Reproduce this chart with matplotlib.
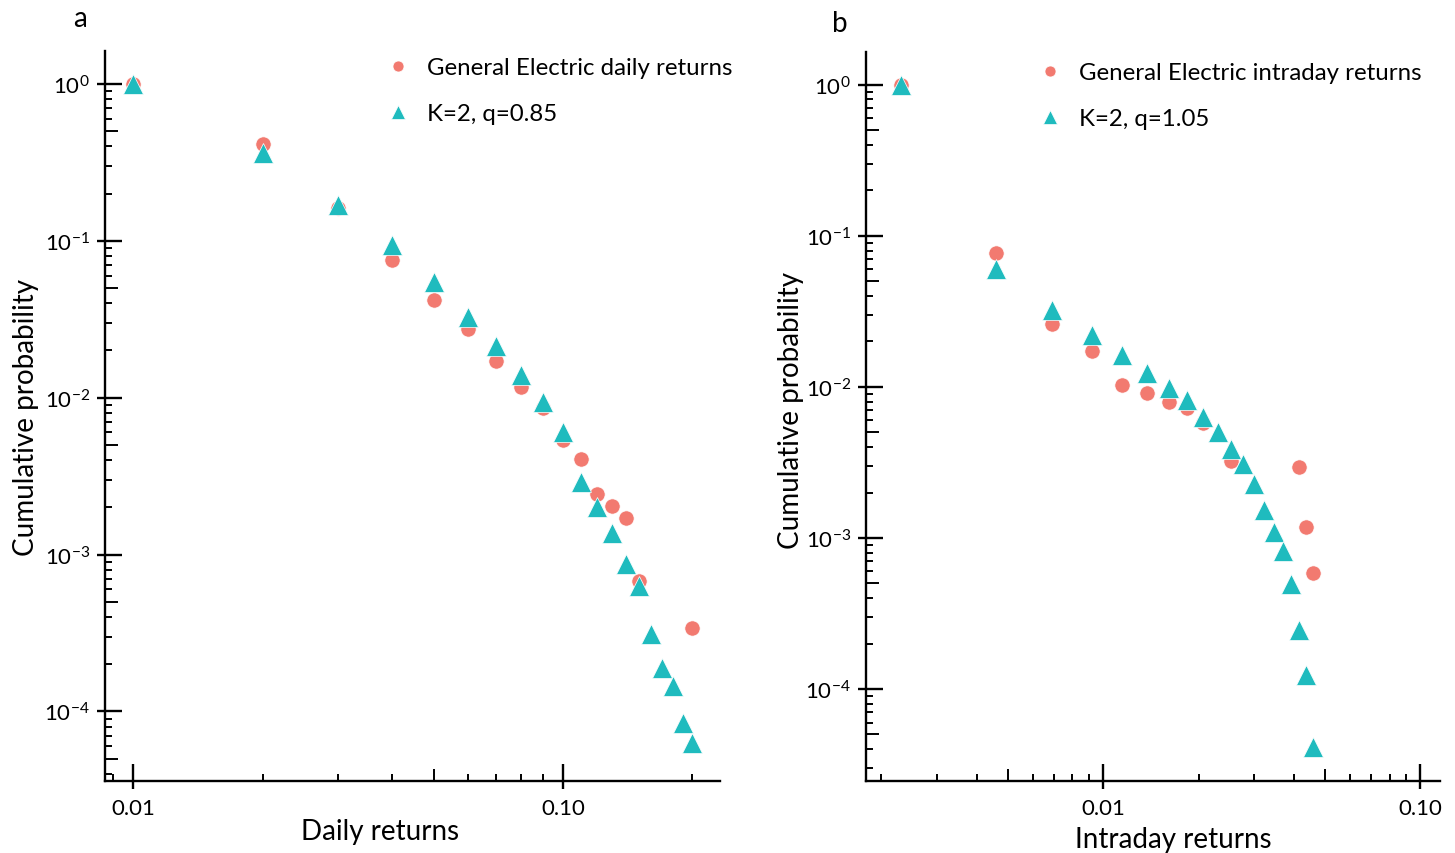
import matplotlib
matplotlib.use('Agg')
import matplotlib.pyplot as plt
from matplotlib.ticker import LogLocator, FixedLocator, NullFormatter

plt.rcParams['font.family'] = ['Lato', 'DejaVu Sans']
plt.rcParams['mathtext.default'] = 'regular'

# panel a: daily returns
daily_ge_x = [0.01, 0.02, 0.03, 0.04, 0.05, 0.06, 0.07, 0.08, 0.09, 0.10,
              0.11, 0.12, 0.13, 0.14, 0.15, 0.20]
daily_ge_y = [1.0, 0.416, 0.161, 0.0752, 0.0419, 0.0274, 0.0172, 0.0117, 0.00865, 0.0054,
              0.00404, 0.00242, 0.00203, 0.0017, 0.00068, 0.00034]
daily_fit_x = [0.01, 0.02, 0.03, 0.04, 0.05, 0.06, 0.07, 0.08, 0.09, 0.10,
               0.11, 0.12, 0.13, 0.14, 0.15, 0.16, 0.17, 0.18, 0.19, 0.20]
daily_fit_y = [1.0, 0.36, 0.168, 0.0936, 0.0545, 0.0327, 0.0214, 0.014, 0.00944, 0.00608,
               0.00289, 0.002, 0.00137, 0.00087, 0.00063, 0.000313, 0.000188, 0.000146, 8.4e-5, 6.3e-5]

# panel b: intraday returns
intra_ge_x = [0.0023, 0.0046, 0.0069, 0.0092, 0.0115, 0.0138, 0.0161, 0.0184, 0.0207,
              0.0253, 0.0414, 0.0437, 0.046]
intra_ge_y = [1.0, 0.0771, 0.0261, 0.0173, 0.0103, 0.00912, 0.00796, 0.00726, 0.00578,
              0.00324, 0.00295, 0.00118, 0.000586]
intra_fit_x = [0.0023, 0.0046, 0.0069, 0.0092, 0.0115, 0.0138, 0.0161, 0.0184, 0.0207, 0.023,
               0.0253, 0.0276, 0.0299, 0.0322, 0.0345, 0.0368, 0.0391, 0.0414, 0.0437, 0.046]
intra_fit_y = [1.0, 0.0604, 0.0324, 0.0221, 0.0163, 0.0124, 0.00985, 0.0082, 0.00633, 0.00503,
               0.00388, 0.00309, 0.00228, 0.00153, 0.0011, 0.00082, 0.000496, 0.000246, 0.000124, 4.13e-5]

red = '#F27A70'
teal = '#1FBBBE'
W, H = 1455, 854

fig = plt.figure(figsize=(W / 100, H / 100), dpi=100)
ax1 = fig.add_axes([105 / W, 72 / H, 615 / W, 730 / H])
ax2 = fig.add_axes([866 / W, 72 / H, 574 / W, 729 / H])


def style(ax, xlim, ylim):
    ax.set_xscale('log')
    ax.set_yscale('log')
    ax.set_xlim(*xlim)
    ax.set_ylim(*ylim)
    ax.spines['top'].set_visible(False)
    ax.spines['right'].set_visible(False)
    for s in ['left', 'bottom']:
        ax.spines[s].set_linewidth(1.7)
    ax.set_xticks([0.01, 0.1])
    ax.set_xticklabels(['0.01', '0.10'])
    ax.yaxis.set_major_locator(LogLocator(base=10, numticks=20))
    for a in [ax.xaxis, ax.yaxis]:
        a.set_minor_locator(LogLocator(base=10, subs=(2, 3, 4, 6, 7, 8, 9), numticks=20))
        a.set_minor_formatter(NullFormatter())
    ax.tick_params(which='major', direction='in', length=12.5, width=1.7, labelsize=16)
    ax.tick_params(axis='x', which='major', pad=12)
    ax.tick_params(axis='y', which='major', pad=11)
    ax.tick_params(which='minor', direction='in', length=5, width=1.4)
    # outward half of major ticks and longer mid-decade ticks
    sx = ax.secondary_xaxis('bottom')
    sy = ax.secondary_yaxis('left')
    sx.spines['bottom'].set_visible(False)
    sy.spines['left'].set_visible(False)
    sx.xaxis.set_major_locator(FixedLocator([0.01, 0.1]))
    sy.yaxis.set_major_locator(LogLocator(base=10, numticks=20))
    for a in [sx.xaxis, sy.yaxis]:
        a.set_major_formatter(NullFormatter())
        a.set_minor_locator(LogLocator(base=10, subs=(5,), numticks=20))
        a.set_minor_formatter(NullFormatter())
    for s in [sx, sy]:
        s.tick_params(which='major', direction='out', length=6, width=1.7)
        s.tick_params(which='minor', direction='in', length=9, width=1.4)


style(ax1, (0.0086, 0.232), (3.6e-5, 1.62))
style(ax2, (0.00179, 0.1153), (2.46e-5, 1.65))

c1, = ax1.plot(daily_ge_x, daily_ge_y, 'o', color=red, ms=11, mec='white', mew=0.5, clip_on=False)
t1, = ax1.plot(daily_fit_x, daily_fit_y, '^', color=teal, ms=14, mec='white', mew=0.5, clip_on=False)
c2, = ax2.plot(intra_ge_x, intra_ge_y, 'o', color=red, ms=11, mec='white', mew=0.5, clip_on=False)
t2, = ax2.plot(intra_fit_x, intra_fit_y, '^', color=teal, ms=14, mec='white', mew=0.5, clip_on=False)

leg_kw = dict(loc='upper left', bbox_transform=fig.transFigure, frameon=False, fontsize=17.3,
              handlelength=1.0, handletextpad=0.72, labelspacing=1.05,
              borderpad=0, borderaxespad=0, markerscale=0.72)
ax1.legend([c1, t1], ['General Electric daily returns', 'K=2, q=0.85'],
           bbox_to_anchor=(386 / W, 1 - 58 / H), **leg_kw)
ax2.legend([c2, t2], ['General Electric intraday returns', 'K=2, q=1.05'],
           bbox_to_anchor=(1038 / W, 1 - 63 / H), **leg_kw)

ax1.set_xlabel('Daily returns', fontsize=20)
ax2.set_xlabel('Intraday returns', fontsize=20)
ax1.set_ylabel('Cumulative probability', fontsize=20)
ax2.set_ylabel('Cumulative probability', fontsize=20)
for ax, xl, yl in [(ax1, (0.447, -0.069), (-0.129, 0.5)), (ax2, (0.535, -0.08), (-0.131, 0.51))]:
    ax.xaxis.label.set_va('center')
    ax.yaxis.label.set_va('center')
    ax.xaxis.set_label_coords(*xl)
    ax.yaxis.set_label_coords(*yl)

fig.text(80 / W, 1 - 27 / H, 'a', fontsize=20, ha='center', va='baseline')
fig.text(840 / W, 1 - 32 / H, 'b', fontsize=20, ha='center', va='baseline')

fig.savefig('out.png', dpi=100)
